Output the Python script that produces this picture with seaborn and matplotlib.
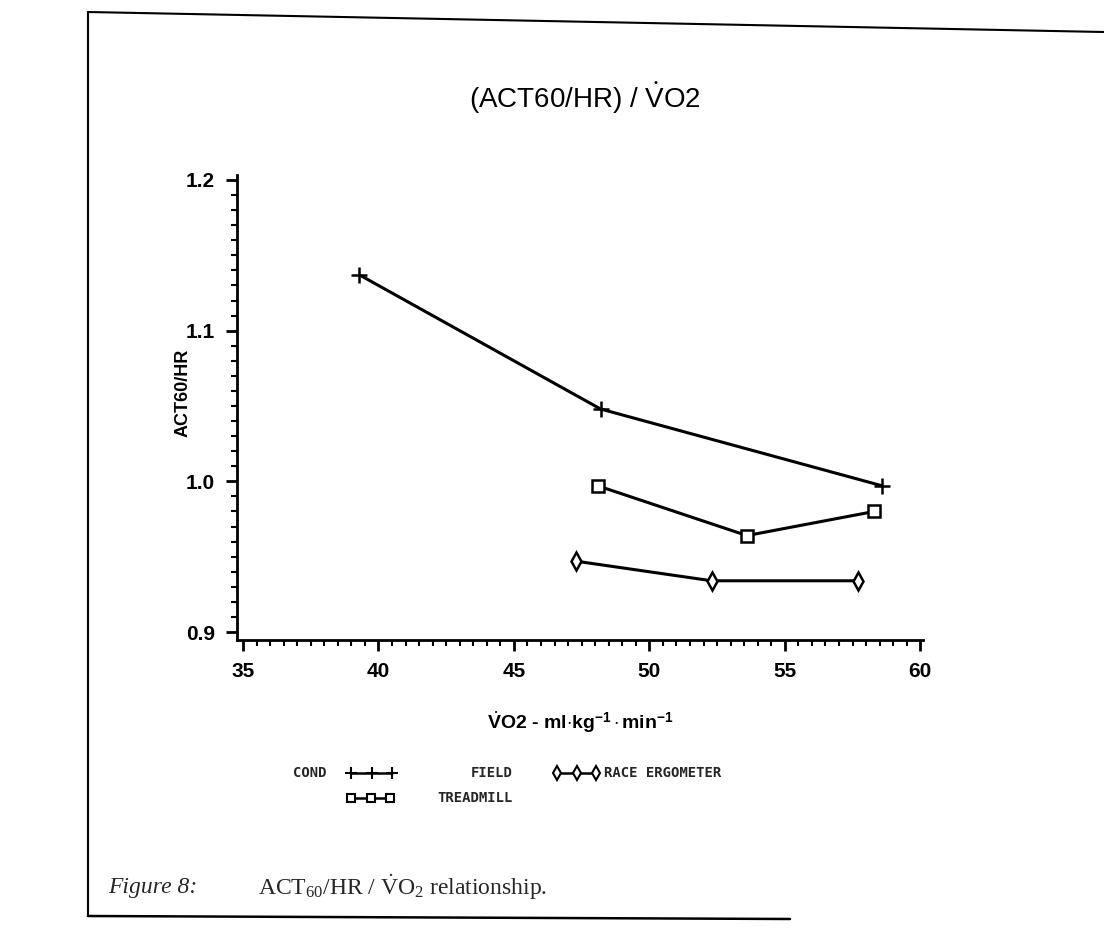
import matplotlib
matplotlib.use("Agg")
import matplotlib.pyplot as plt
from matplotlib.lines import Line2D
from matplotlib.ticker import MultipleLocator, FixedLocator
import seaborn as sns
import pandas as pd

# ---- data ----
conditions = ["FIELD", "TREADMILL", "RACE ERGOMETER"]
field_x = [39.3, 48.2, 58.6]
field_y = [1.137, 1.048, 0.997]
treadmill_x = [48.1, 53.6, 58.3]
treadmill_y = [0.997, 0.964, 0.980]
race_x = [47.3, 52.3, 57.7]
race_y = [0.947, 0.934, 0.934]
x_ticks = [35, 40, 45, 50, 55, 60]
y_ticks = [0.9, 1.0, 1.1, 1.2]
y_tick_labels = ["0.9", "1.0", "1.1", "1.2"]

df = pd.DataFrame({
    "vo2": field_x + treadmill_x + race_x,
    "ratio": field_y + treadmill_y + race_y,
    "cond": [conditions[0]] * 3 + [conditions[1]] * 3 + [conditions[2]] * 3,
})

sns.set_theme(style="white")
plt.rcParams["font.family"] = ["Liberation Sans Narrow", "Liberation Sans", "DejaVu Sans"]
plt.rcParams["mathtext.fontset"] = "custom"
plt.rcParams["mathtext.rm"] = "Liberation Serif"
plt.rcParams["mathtext.it"] = "Liberation Serif:italic"
plt.rcParams["mathtext.sf"] = "Liberation Sans"
plt.rcParams["mathtext.bf"] = "Liberation Sans:bold"

W, H = 1104, 947
fig = plt.figure(figsize=(W / 100, H / 100), dpi=100)
fig.patch.set_facecolor("white")

def fx(px):
    return px / W

def fy(py):
    return 1 - py / H

ax = fig.add_axes([fx(237), fy(640), fx(923) - fx(237), fy(175) - fy(640)])

markers = {"FIELD": "+", "TREADMILL": "s", "RACE ERGOMETER": "d"}
msizes = {"FIELD": 12, "TREADMILL": 8, "RACE ERGOMETER": 9}
for c in conditions:
    sub = df[df["cond"] == c]
    sns.lineplot(data=sub, x="vo2", y="ratio", color="black", marker=markers[c],
                 linewidth=2.2, markersize=msizes[c], markeredgewidth=1.8,
                 markerfacecolor="white", markeredgecolor="black", ax=ax,
                 legend=False)

ax.set_xlim(34.78, 60.1)
ax.set_ylim(0.8947, 1.2033)
ax.xaxis.set_major_locator(FixedLocator(x_ticks))
ax.xaxis.set_minor_locator(MultipleLocator(0.5))
ax.yaxis.set_major_locator(FixedLocator(y_ticks))
ax.set_yticklabels(y_tick_labels)
ax.yaxis.set_minor_locator(MultipleLocator(0.01))
for s in ["top", "right"]:
    ax.spines[s].set_visible(False)
for s in ["left", "bottom"]:
    ax.spines[s].set_color("black")
    ax.spines[s].set_linewidth(2.0)
ax.tick_params(axis="both", which="major", direction="out", length=8, width=2,
               color="black", labelsize=15, pad=8, bottom=True, left=True,
               labelcolor="black")
ax.tick_params(axis="both", which="minor", direction="out", length=4, width=1.5,
               color="black", bottom=True, left=True)
for lab in ax.get_xticklabels() + ax.get_yticklabels():
    lab.set_fontweight("bold")
ax.grid(False)

ax.set_xlabel(r"$\dot{\mathbf{V}}\mathbf{O2}$ - ml$\cdot$kg$^{\mathbf{-1}}\cdot$min$^{\mathbf{-1}}$",
              fontsize=14, fontweight="bold", color="black")
ax.xaxis.set_label_coords((580 - 237) / 686, -(722 - 640) / 465)
ax.xaxis.label.set_va("center")
ax.set_ylabel("ACT60/HR", fontsize=13, fontweight="bold", color="black")
ax.yaxis.set_label_coords((192 - 237) / 686, (640 - 393) / 465)

fig.text(fx(585), fy(98), r"(ACT60/HR) / $\dot{\mathsf{V}}$O2", ha="center", va="center",
         fontsize=20, family=["Liberation Sans", "DejaVu Sans"], color="black")

# ---- legend (SAS style) ----
mono = ["DejaVu Sans Mono"]
fig.text(fx(293), fy(773), "COND", fontsize=10, fontweight="bold", family=mono,
         ha="left", va="center")
def legend_key(x0, x1, y, marker, ms):
    xs = [fx(x0), fx((x0 + x1) / 2), fx(x1)]
    fig.add_artist(Line2D(xs, [fy(y)] * 3, transform=fig.transFigure, color="black",
                          linewidth=1.8, marker=marker, markersize=ms,
                          markeredgewidth=1.5, markerfacecolor="white",
                          markeredgecolor="black"))
legend_key(351, 392, 773, "+", 9)
legend_key(351, 390, 798, "s", 6)
legend_key(557, 596, 773, "d", 7)
fig.text(fx(513), fy(773), "FIELD", fontsize=10, fontweight="bold", family=mono,
         ha="right", va="center")
fig.text(fx(513), fy(798), "TREADMILL", fontsize=10, fontweight="bold", family=mono,
         ha="right", va="center")
fig.text(fx(604), fy(773), "RACE ERGOMETER", fontsize=10, fontweight="bold",
         family=mono, ha="left", va="center")

# ---- caption ----
fig.text(fx(108), fy(887), "Figure 8:", fontsize=17, style="italic",
         family=["Liberation Serif"], ha="left", va="center")
fig.text(fx(258), fy(887), r"ACT$_{60}$/HR / $\dot{\mathrm{V}}$O$_{2}$ relationship.",
         fontsize=17, family=["Liberation Serif"], ha="left", va="center")

# ---- page border of the scanned figure ----
fig.add_artist(Line2D([fx(88), fx(1104)], [fy(12), fy(32)], transform=fig.transFigure,
                      color="black", linewidth=1.5))
fig.add_artist(Line2D([fx(88), fx(88)], [fy(12), fy(916)], transform=fig.transFigure,
                      color="black", linewidth=1.5))
fig.add_artist(Line2D([fx(88), fx(790)], [fy(916), fy(919)], transform=fig.transFigure,
                      color="black", linewidth=1.8))

fig.savefig("out.png", dpi=100, facecolor="white")
